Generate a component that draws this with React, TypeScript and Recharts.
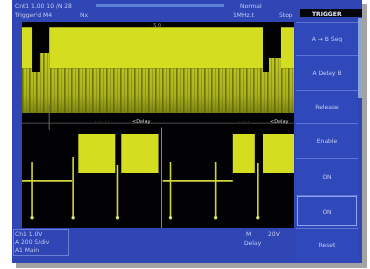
import { Area, ComposedChart, Line, ReferenceLine, Scatter, XAxis, YAxis } from "recharts"

// time axis in divisions (0..10), level in divisions (-4..4)

// channel 1 (top trace)
const topT = [0, 0.37, 0.37, 0.66, 0.66, 1.0, 1.0, 8.86, 8.86, 9.08, 9.08, 9.52, 9.52, 10]
const denseHigh = [2.2, 2.2, 2.06, 2.06, 2.8, 2.8, 2.2, 2.2, 2.06, 2.06, 2.6, 2.6, 2.2, 2.2]
const solidOn = [1, 1, 0, 0, 0, 0, 1, 1, 0, 0, 0, 0, 1, 1]
const denseLow = 0.47
const solidLow = 2.2
const solidHigh = 3.8

// channel 2 (bottom trace)
const blockStart = [2.07, 3.65, 7.75, 8.86]
const blockEnd = [3.43, 5.02, 8.56, 10]
const blockLow = -1.86
const blockHigh = -0.35
const baseStart = [0, 5.17]
const baseEnd = [1.85, 7.75]
const baseLevel = -2.17
const spikeT = [0.37, 1.88, 3.51, 5.46, 7.12, 8.67]
const spikeTop = [-1.44, -1.24, -1.55, -1.44, -1.44, -1.48]
const spikeBottom = -3.6

const cursorT = 5.13

// screen texts
const menuTitle = "TRIGGER"
const menuLabels = ["A → B Seq", "A Delay B", "Release", "Enable", "ON", "ON", "Reset"]
const statusRow1 = "Cnt1 1.00 10 /N 28"
const statusRow2 = ["Trigger'd  M4", "Nx", "1MHz.t", "Stop"]
const readout = ["Ch1  1.0V", "A 200 S/div", "A1    Main"]

const topRows = topT.map((t, i) => ({
  t,
  dense: [denseLow, denseHigh[i]],
  solid: solidOn[i] ? [solidLow, solidHigh] : null,
}))
const blockRows = blockStart.flatMap((s, i) => [
  { t: s, block: [blockLow, blockHigh] },
  { t: blockEnd[i], block: [blockLow, blockHigh] },
  { t: blockEnd[i], block: null },
])
const baseRows = baseStart.flatMap((s, i) => [
  { t: s, v: baseLevel },
  { t: baseEnd[i], v: baseLevel },
  { t: baseEnd[i], v: null },
])
const spikeRows = spikeT.flatMap((t, i) => [
  { t, v: spikeTop[i] },
  { t, v: spikeBottom },
  { t, v: null },
])
const tipRows = spikeT.map((t) => ({ t, v: spikeBottom }))

const ink = "#bcc6ee"
const yellow = "#d5dd20"
const trace = "#cfd43c"

const menuEdges = [22, 55, 90, 123, 158, 195, 228, 262]

function txt(x: number, y: number, s: string, extra: any = {}) {
  return (
    <div style={{ position: "absolute", left: x, top: y, fontSize: 6, color: ink, whiteSpace: "nowrap", lineHeight: "7px", ...extra }}>
      {s}
    </div>
  )
}

const Tip = (p: any) => <circle cx={p.cx} cy={p.cy} r={1.7} fill="#e2e470" />

export default function App() {
  return (
    <div
      style={{
        position: "fixed",
        left: 0,
        top: 0,
        width: 370,
        height: 269,
        background: "#fff",
        overflow: "hidden",
        fontFamily: "DejaVu Sans",
        filter: "blur(0.5px)",
      }}
    >
      {/* shadow + frame */}
      <div style={{ position: "absolute", left: 16, top: 4, width: 351, height: 264, background: "#a3a3a3" }} />
      <div style={{ position: "absolute", left: 12, top: 0, width: 350, height: 263, background: "#2f46b4" }} />
      <div style={{ position: "absolute", left: 358, top: 18, width: 4, height: 80, background: "#8aa6d6" }} />

      {/* status bar */}
      {txt(15, 2, statusRow1)}
      <div style={{ position: "absolute", left: 96, top: 4, width: 128, height: 3, background: "#5c82d8" }} />
      {txt(240, 2, "Normal")}
      {txt(15, 11, statusRow2[0])}
      {txt(80, 11, statusRow2[1])}
      {txt(233, 11, statusRow2[2])}
      {txt(279, 11, statusRow2[3])}
      <div style={{ position: "absolute", left: 300, top: 9, width: 62, height: 8, background: "#05050c" }} />
      {txt(312, 10, menuTitle, { color: "#e4e8f8", fontWeight: "bold" })}

      {/* display */}
      <div style={{ position: "absolute", left: 22, top: 22, width: 272, height: 206, background: "#020204" }} />
      <div style={{ position: "absolute", left: 22, top: 22 }}>
        <ComposedChart width={272} height={206} margin={{ top: 0, right: 0, bottom: 0, left: 0 }}>
          <defs>
            <linearGradient id="denseFill" x1="0" y1="0" x2="0" y2="1">
              <stop offset="0%" stopColor="#c4cc22" />
              <stop offset="70%" stopColor="#a9b11c" />
              <stop offset="100%" stopColor="#7d8412" />
            </linearGradient>
            <pattern id="stripes" width="7" height="10" patternUnits="userSpaceOnUse">
              <rect x="0" y="0" width="1.6" height="10" fill="#5f6408" opacity="0.8" />
              <rect x="4" y="0" width="0.9" height="10" fill="#6e740c" opacity="0.55" />
            </pattern>
          </defs>
          <XAxis dataKey="t" type="number" domain={[0, 10]} hide allowDataOverflow />
          <YAxis type="number" domain={[-4, 4]} hide allowDataOverflow />
          <Area data={topRows} dataKey="solid" type="linear" stroke="none" fill={yellow} fillOpacity={1} isAnimationActive={false} />
          <Area data={topRows} dataKey="dense" type="linear" stroke="none" fill="url(#denseFill)" fillOpacity={1} isAnimationActive={false} />
          <Area data={topRows} dataKey="dense" type="linear" stroke="none" fill="url(#stripes)" fillOpacity={1} isAnimationActive={false} />
          <ReferenceLine y={0.07} stroke="#4a4a4a" strokeWidth={1} />
          <ReferenceLine segment={[{ x: 1.0, y: 0.78 }, { x: 1.0, y: -0.19 }]} stroke="#6a6a6a" />
          <ReferenceLine segment={[{ x: cursorT, y: -0.1 }, { x: cursorT, y: -4 }]} stroke="#8a8a8a" />
          <Area data={blockRows} dataKey="block" type="linear" stroke="none" fill={yellow} fillOpacity={1} isAnimationActive={false} />
          <Line data={baseRows} dataKey="v" type="linear" stroke={trace} strokeWidth={1.6} dot={false} isAnimationActive={false} />
          <Line data={spikeRows} dataKey="v" type="linear" stroke={trace} strokeWidth={1.6} dot={false} isAnimationActive={false} />
          <Scatter data={tipRows} dataKey="v" shape={Tip} isAnimationActive={false} />
        </ComposedChart>
      </div>
      {txt(150, 22, "· 5.0 ·", { color: "#9a9a9a", fontSize: 5 })}
      {txt(95, 118, "· · · · ·", { color: "#b8b8b8", fontSize: 5 })}
      {txt(132, 118, "<Delay", { color: "#d8d8d8", fontSize: 5 })}
      {txt(238, 118, "· · · ·", { color: "#b8b8b8", fontSize: 5 })}
      {txt(270, 118, "<Delay", { color: "#d8d8d8", fontSize: 5 })}

      {/* side menu */}
      {menuLabels.map((label, i) => {
        const y0 = menuEdges[i]
        const h = menuEdges[i + 1] - y0
        const active = i === 5
        return (
          <div
            key={i}
            style={{
              position: "absolute",
              left: 296,
              top: y0,
              width: 62,
              height: h - 1,
              background: "#3049ba",
              borderTop: "1px solid #5d74d8",
              boxSizing: "border-box",
              outline: active ? "1.5px solid #8fa2ee" : "none",
              outlineOffset: active ? -2 : 0,
            }}
          >
            <div style={{ position: "absolute", left: 0, right: 0, top: h / 2 - 5, textAlign: "center", fontSize: 6, color: ink }}>
              {label}
            </div>
          </div>
        )
      })}

      {/* readout box */}
      <div style={{ position: "absolute", left: 13, top: 229, width: 56, height: 27, border: "1px solid #6a80d4", boxSizing: "border-box" }} />
      {txt(15, 230, readout[0])}
      {txt(15, 238, readout[1])}
      {txt(15, 246, readout[2])}
      {txt(246, 230, "M")}
      {txt(268, 230, "20V")}
      {txt(244, 239, "Delay")}
    </div>
  )
}
